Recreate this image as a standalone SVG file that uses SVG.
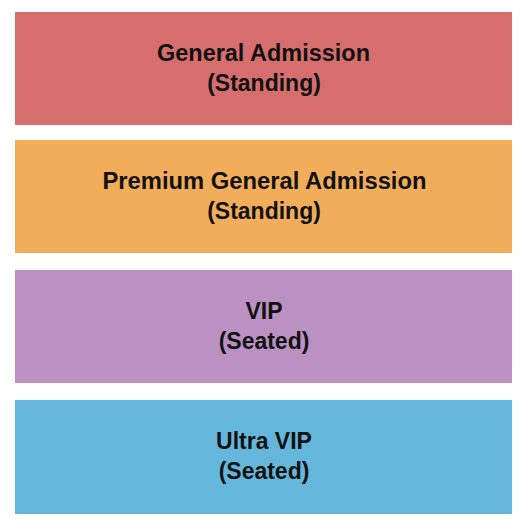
<svg xmlns="http://www.w3.org/2000/svg" width="525" height="525" viewBox="0 0 525 525">
<style>
.sec{stroke:none}
.lbl{font-family:"Liberation Sans",Arial,sans-serif;font-weight:bold;font-size:23px;fill:#111;text-anchor:middle}
</style>
<rect width="525" height="525" fill="#ffffff"/>
<g id="general-admission">
<rect class="sec" x="15" y="12" width="497" height="113" fill="#D66E6E"/>
<text class="lbl" x="263.5" y="60.5" textLength="213" lengthAdjust="spacingAndGlyphs">General Admission</text>
<text class="lbl" x="264" y="90.5">(Standing)</text>
</g>
<g id="premium-general-admission">
<rect class="sec" x="15" y="140" width="497" height="113" fill="#F2AD5B"/>
<text class="lbl" x="264.5" y="189" textLength="324" lengthAdjust="spacingAndGlyphs">Premium General Admission</text>
<text class="lbl" x="264" y="219">(Standing)</text>
</g>
<g id="vip">
<rect class="sec" x="15" y="270" width="497" height="113" fill="#BB91C3"/>
<text class="lbl" x="264" y="319">VIP</text>
<text class="lbl" x="264" y="349">(Seated)</text>
</g>
<g id="ultra-vip">
<rect class="sec" x="15" y="400" width="497" height="114" fill="#65B6DB"/>
<text class="lbl" x="264" y="448.5">Ultra VIP</text>
<text class="lbl" x="264" y="478.5">(Seated)</text>
</g>
<g id="connectors"></g>
</svg>
